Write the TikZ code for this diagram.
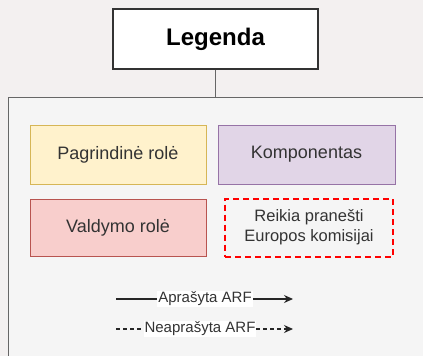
\documentclass[tikz,border=0pt]{standalone}
\usepackage{fontspec}
\setmainfont{Liberation Sans}
\usetikzlibrary{arrows.meta}
\definecolor{bgc}{HTML}{F3F0F0}
\definecolor{contc}{HTML}{F5F5F5}
\definecolor{txtc}{HTML}{333333}
\definecolor{yfill}{HTML}{FFF2CC}
\definecolor{ydraw}{HTML}{D6B656}
\definecolor{pfill}{HTML}{E1D5E7}
\definecolor{pdraw}{HTML}{9673A6}
\definecolor{rfill}{HTML}{F8CECC}
\definecolor{rdraw}{HTML}{B85450}
\begin{document}
\begin{tikzpicture}[x=1pt,y=-1pt,
  legbox/.style={draw=black!80,line width=1.2pt,rectangle,inner sep=0pt},
  rolebox/.style={rectangle,line width=1pt,inner sep=0pt,minimum width=176pt,minimum height=59pt,text=txtc,font=\fontsize{18}{20}\selectfont},
  lbl/.style={fill=white,inner sep=1pt,text=txtc,font=\fontsize{15}{17}\selectfont},
  arr/.style={-{Stealth[length=9pt,width=8pt]},line width=1.2pt,black!85}]
\useasboundingbox (0,0) rectangle (423,356);
\clip (0,0) rectangle (423,356);
\fill[bgc] (0,0) rectangle (423,356);
\node[legbox,fill=white,minimum width=205pt,minimum height=60pt,font=\fontsize{24}{26}\selectfont\bfseries] (leg) at (215.5,39) {Legenda};
\draw[draw=black!60,fill=contc,line width=1pt] (8,97) rectangle (440,370);
\coordinate (ctop) at (215.5,97);
\draw[black!60,line width=1.2pt] (leg.south) -- (ctop);
\node[rolebox,fill=yfill,draw=ydraw] (pr) at (118,154.5) {Pagrindinė rolė};
\node[rolebox,fill=pfill,draw=pdraw,minimum width=177pt] (kp) at (306.5,154.5) {Komponentas};
\node[rolebox,fill=rfill,draw=rdraw,minimum height=57pt] (vr) at (118,227.5) {Valdymo rolė};
\node[rolebox,draw=red,dash pattern=on 6pt off 4pt,line width=2pt,minimum width=168pt,minimum height=58pt,align=center,font=\fontsize{16.5}{20}\selectfont] (rk) at (309,227.5) {Reikia pranešti\\Europos komisijai};
\coordinate (a1s) at (116,299);
\coordinate (a1e) at (293,299);
\coordinate (a2s) at (116,329);
\coordinate (a2e) at (293,329);
\draw[arr] (a1s) -- (a1e);
\draw[arr,dash pattern=on 4pt off 3pt] (a2s) -- (a2e);
\node[lbl] (l1) at (205,299) {Aprašyta ARF};
\node[lbl] (l2) at (200,329) {Neaprašyta ARF};
\end{tikzpicture}
\end{document}
